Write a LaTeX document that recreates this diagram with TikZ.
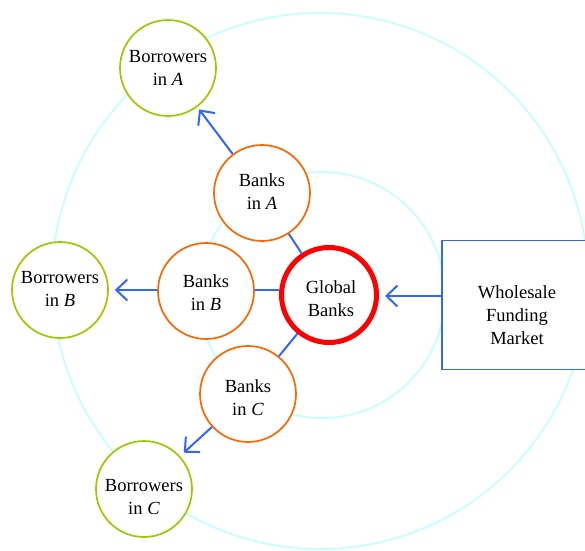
\documentclass[tikz,border=0pt]{standalone}
\usepackage{fontspec}
\setmainfont{Liberation Serif}
\usetikzlibrary{arrows.meta}
\definecolor{ringc}{HTML}{C4FFFF}
\definecolor{borc}{HTML}{99CC00}
\definecolor{bankc}{HTML}{FF6600}
\definecolor{glbc}{HTML}{FF0000}
\definecolor{flowc}{HTML}{3366FF}
\tikzset{
  ring/.style={draw=ringc, line width=1.7pt},
  lbl/.style={align=center, font=\fontsize{18.5pt}{23pt}\selectfont, inner sep=0pt},
  borrow/.style={circle, draw=borc, line width=1.7pt, fill=white, minimum size=96pt},
  bank/.style={circle, draw=bankc, line width=1.7pt, fill=white, minimum size=96pt},
  glob/.style={circle, draw=glbc, line width=5pt, fill=white, minimum size=95pt},
  market/.style={rectangle, draw=flowc, line width=1.8pt, fill=white, minimum width=150pt, minimum height=129pt},
  link/.style={draw=flowc, line width=2pt},
  flow/.style={link, -{Straight Barb[length=11pt,width=21pt,line width=2pt]}, shorten >=5pt},
}
\begin{document}
\begin{tikzpicture}[x=1pt,y=-1pt]
\useasboundingbox (0,0) rectangle (585,550);
\clip (0,0) rectangle (585,550);
% rings
\coordinate (bigc) at (320,281);
\coordinate (smallc) at (322,295);
\draw[ring] (bigc) circle (268);
\draw[ring] (smallc) circle (123);
% market box
\node[market] (wfm) at (517,305) {};
\node[lbl] (wfmt) at (517,315) {Wholesale\\Funding\\Market};
% circles
\node[glob] (gb) at (329,295) {};
\node[bank] (ba) at (262,193) {};
\node[bank] (bb) at (206,291) {};
\node[bank] (bc) at (248,394) {};
\node[borrow] (ra) at (168,68) {};
\node[borrow] (rb) at (60,290) {};
\node[borrow] (rc) at (144,489) {};
% labels
\node[lbl] (gbt) at (331,299) {Global\\Banks};
\node[lbl] (bat) at (262,192) {Banks\\in \textit{A}};
\node[lbl] (bbt) at (206,293) {Banks\\in \textit{B}};
\node[lbl] (bct) at (248,398) {Banks\\in \textit{C}};
\node[lbl] (rat) at (168,67.5) {Borrowers\\in \textit{A}};
\node[lbl] (rbt) at (60,289) {Borrowers\\in \textit{B}};
\node[lbl] (rct) at (144,497.5) {Borrowers\\in \textit{C}};
% connectors
\coordinate (wfmin) at (wfm.west |- 0,296);
\draw[flow, shorten >=6pt] (wfmin) -- (gb.east |- 0,296);
\draw[link] (gb) -- (ba);
\draw[link] (bb.east |- 0,290) -- (gb.west |- 0,290);
\draw[link] (gb) -- (bc);
\draw[flow, shorten >=3pt] (ba) -- (ra);
\draw[flow, shorten >=6pt] (bb.west |- 0,290) -- (rb.east |- 0,290);
\draw[flow] (bc) -- (rc);
\end{tikzpicture}
\end{document}
